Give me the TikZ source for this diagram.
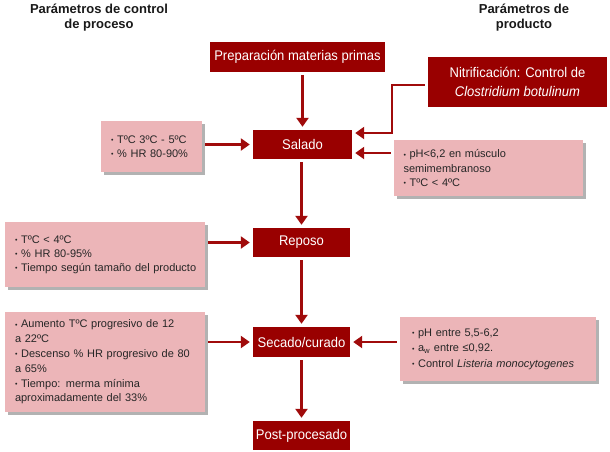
\documentclass[tikz,border=0pt]{standalone}
\usepackage{fontspec}
\setmainfont{Liberation Sans}
\newfontfamily\narrowf[FakeStretch=0.93]{Liberation Sans}
\usetikzlibrary{arrows.meta,shadows}
\definecolor{dred}{HTML}{990000}
\definecolor{ared}{HTML}{A00B0B}
\definecolor{pinkb}{HTML}{ECB5B8}
\newcommand{\bul}{{\fontsize{7}{7}\selectfont\raisebox{0.7pt}{•}}\ }
\begin{document}
\begin{tikzpicture}[x=1pt,y=-1pt,
  head/.style={font=\fontsize{13}{15}\selectfont\bfseries, align=center, text=black!90},
  flow/.style={fill=dred, text=white, inner sep=0pt, font=\narrowf\fontsize{14}{19}\selectfont, align=center},
  pbox/.style={fill=pinkb, inner xsep=10pt, inner ysep=0pt, align=left,
    font=\fontsize{11}{14.2}\selectfont, text=black!85,
    drop shadow={shadow xshift=2.5pt, shadow yshift=-2.5pt, fill=black, opacity=0.3}},
  arr/.style={draw=ared, line width=2.6pt, -{Triangle[length=9pt,width=12pt]}, shorten <=3pt, shorten >=3pt}]
\useasboundingbox (0,0) rectangle (610,451);
% headers
\node[head] (h1) at (99,18) {Parámetros de control\\de proceso};
\node[head] (h2) at (524,18) {Parámetros de\\producto};
% flow boxes
\node[flow, minimum width=175pt, minimum height=30pt] (prep) at (297.5,57) {Preparación materias primas};
\node[flow, minimum width=179pt, minimum height=50pt] (nit) at (517.5,82) {Nitrificación: Control de\\\textit{Clostridium botulinum}};
\node[flow, minimum width=99pt, minimum height=29pt] (sal) at (302.5,144.5) {Salado};
\node[flow, minimum width=97pt, minimum height=29pt] (rep) at (301.5,242.5) {Reposo};
\node[flow, minimum width=97pt, minimum height=30pt] (sec) at (301.5,342) {Secado/curado};
\node[flow, minimum width=97pt, minimum height=29pt] (post) at (301.5,435.5) {Post-procesado};
% pink boxes
\node[pbox, text width=81pt, minimum height=51pt] (p1) at (151.5,146.5) {\bul TºC 3ºC - 5ºC\\\bul \% HR 80-90\%};
\node[pbox, text width=170pt, inner xsep=9.5pt, minimum height=56pt] (p2) at (488.5,168) {\bul pH<6,2 en músculo\\semimembranoso\\\bul TºC < 4ºC};
\node[pbox, text width=180pt, minimum height=65pt] (p3) at (105,254.5) {\bul TºC < 4ºC\\\bul \% HR 80-95\%\\\mbox{\bul Tiempo según tamaño del producto}};
\node[pbox, text width=180pt, minimum height=100pt, font=\fontsize{11}{14.8}\selectfont] (p4) at (105,362) {\bul Aumento TºC progresivo de 12\\a 22ºC\\\bul Descenso \% HR progresivo de 80\\a 65\%\\\bul Tiempo: merma mínima\\aproximadamente del 33\%};
\node[pbox, text width=172pt, inner xsep=12pt, minimum height=64pt, font=\fontsize{11}{15.5}\selectfont] (p5) at (498,349) {\bul pH entre 5,5-6,2\\\bul a\textsubscript{w} entre ≤0,92.\\\bul Control \textit{Listeria monocytogenes}};
% vertical arrows
\draw[arr] (sal.north |- prep.south) -- (sal.north);
\draw[arr] (rep.north |- sal.south) -- (rep.north);
\draw[arr] (sec.north |- rep.south) -- (sec.north);
\draw[arr] (post.north |- sec.south) -- (post.north);
% horizontal arrows
\draw[arr] (p1.east |- sal.west) -- (sal.west);
\draw[arr] (p3.east |- rep.west) -- (rep.west);
\draw[arr] (p4.east |- sec.west) -- (sec.west);
\draw[arr] (p5.west |- sec.east) -- (sec.east);
\coordinate (a) at ([yshift=-8.5pt]sal.east);
\draw[arr] (p2.west |- a) -- (a);
\coordinate (b) at ([yshift=11.5pt]sal.east);
\draw[arr] ([yshift=-3pt]nit.west) -- ++(-36,0) |- (b);
\end{tikzpicture}
\end{document}
